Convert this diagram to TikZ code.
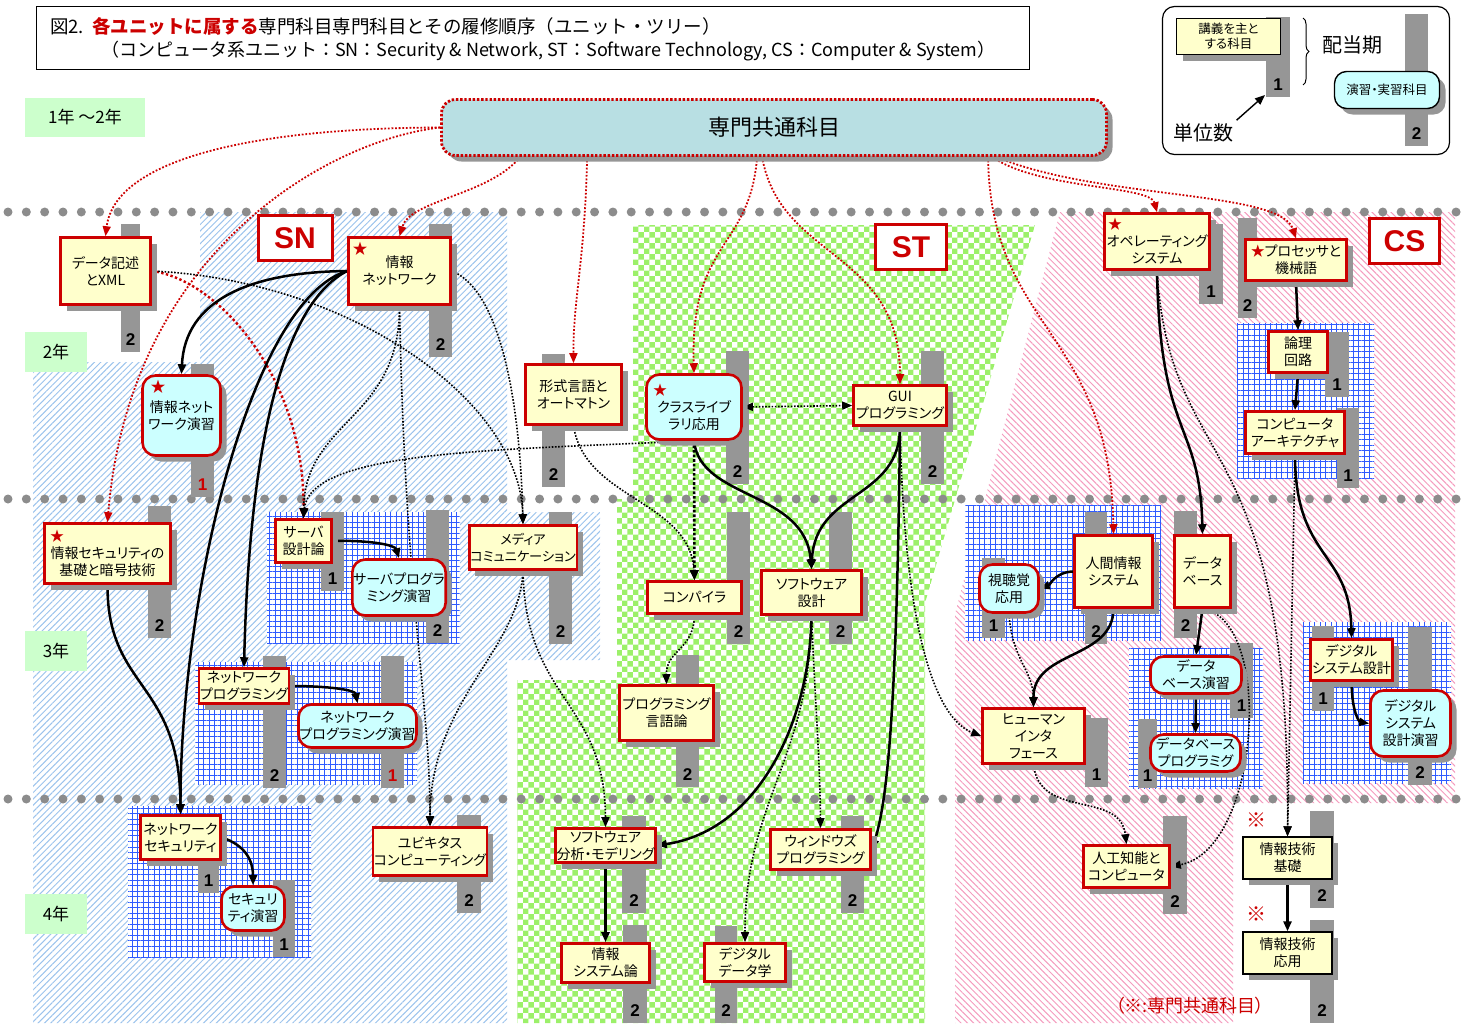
\documentclass[tikz,border=0pt]{standalone}
\usepackage{fontspec}
\newfontfamily\jp[CharacterWidth=AlternateProportional]{Noto Sans CJK JP}
\newfontfamily\jpfull{Noto Sans CJK JP}
\newfontfamily\numf{Liberation Sans}
\usetikzlibrary{arrows.meta,shadows,patterns,patterns.meta,decorations.pathreplacing}

\definecolor{boxred}{HTML}{CC0000}
\definecolor{lecfill}{HTML}{FFFFCC}
\definecolor{exfill}{HTML}{CCFFFF}
\definecolor{bargray}{HTML}{969696}
\definecolor{dotgray}{HTML}{8C8C8C}
\definecolor{yearfill}{HTML}{CCFFCC}
\definecolor{headfill}{HTML}{B8DFE3}
\definecolor{snblue}{HTML}{9CC3EC}
\definecolor{stgreen}{HTML}{9CF06A}
\definecolor{cspink}{HTML}{F49CBE}
\definecolor{gridblue}{HTML}{2F5BFF}

\pgfdeclarelayer{bg}
\pgfdeclarelayer{bars}
\pgfdeclarelayer{edges}
\pgfsetlayers{bg,bars,edges,main}

\tikzset{
  boxbase/.style={align=center, inner sep=1pt, font=\jp\fontsize{14}{17}\selectfont,
    drop shadow={shadow xshift=6pt, shadow yshift=-6pt, opacity=1, fill=bargray}},
  lec/.style={boxbase, draw=boxred, line width=2.6pt, fill=lecfill},
  exer/.style={boxbase, draw=boxred, line width=2.6pt, fill=exfill, rounded corners=13pt},
  comm/.style={boxbase, draw=black, line width=1.4pt, fill=lecfill},
  num/.style={inner sep=0pt, font=\numf\bfseries\fontsize{17}{17}\selectfont},
  unitlabel/.style={draw=boxred, line width=3pt, fill=white, text=boxred, inner sep=0pt,
    font=\numf\bfseries\fontsize{30}{30}\selectfont},
  yearlabel/.style={fill=yearfill, inner sep=0pt, font=\jp\fontsize{17}{17}\selectfont},
  starmark/.style={text=boxred, inner sep=0pt, font=\jp\fontsize{15}{15}\selectfont},
  must/.style={->, line width=2.5pt},
  rec/.style={->, line width=1.6pt, dash pattern=on 1.6pt off 1.6pt},
  fromcommon/.style={->, draw=boxred, line width=1.8pt, dash pattern=on 1.8pt off 1.8pt},
}

\begin{document}
\begin{tikzpicture}[x=1pt, y=-1pt, >={Triangle[length=10pt,width=8pt]}]
\useasboundingbox (0,0) rectangle (1464,1023);

\begin{pgfonlayer}{bg}
\fill[pattern={Lines[angle=45,distance=4.5pt,line width=1pt]}, pattern color=snblue]
  (200,212) -- (507,212) -- (507,512) -- (600,512) -- (600,660) -- (507,660) -- (507,1023)
  -- (33,1023) -- (33,362) -- (200,362) -- cycle;
\fill[pattern=checkerboard, pattern color=stgreen]
  (633,225) -- (1035,225) -- (925,603) -- (925,1023) -- (517,1023) -- (517,680) -- (617,680)
  -- (617,499) -- (633,499) -- cycle;
\fill[pattern={Lines[angle=-45,distance=4.5pt,line width=1pt]}, pattern color=cspink]
  (1060,212) -- (1455,212) -- (1455,803) -- (1233,803) -- (1233,1023) -- (955,1023) -- (955,614) -- cycle;
\foreach \xa/\ya/\xb/\yb in {1237/323/1374/478, 267/512/460/643, 195/662/417/784, 128/806/311/957,
  965/505/1161/640, 1129/648/1263/788, 1303/622/1451/783}
{
  \fill[white] (\xa,\ya) rectangle (\xb,\yb);
  \fill[pattern={Hatch[angle=0,distance=5.5pt,line width=1pt]}, pattern color=gridblue] (\xa,\ya) rectangle (\xb,\yb);
}
\foreach \y in {212,499,799}
  \draw[dotgray, line width=9pt, line cap=round, dash pattern=on 0pt off 18.33pt] (8,\y) -- (1460,\y);
\end{pgfonlayer}

\begin{pgfonlayer}{bars}
\foreach \xa/\ya/\xb/\yb/\crd/\col [count=\i] in {1266/17/1290/97/1/black, 1405/14/1428/146/2/black,
  121/224/140/352/2/black, 429/224/452/357/2/black, 191/364/214/497/1/boxred, 148/506/171/638/2/black,
  321/512/344/591/1/black, 426/510/449/643/2/black, 549/512/572/644/2/black, 263/656/286/788/2/black,
  381/656/404/788/1/boxred, 198/814/219/893/1/black, 273/880/295/957/1/black, 457/815/481/913/2/black,
  542/354/565/487/2/black, 726/351/749/484/2/black, 921/351/944/484/2/black, 727/512/750/644/2/black,
  829/512/852/644/2/black, 676/655/699/787/2/black, 622/816/646/913/2/black, 841/816/864/913/2/black,
  623/925/647/1023/2/black, 715/926/737/1023/2/black, 1199/224/1223/304/1/black, 1238/218/1257/318/2/black,
  1325/332/1349/397/1/black, 1337/408/1359/488/1/black, 1085/512/1107/644/2/black, 982/558/1005/638/1/black,
  1174/511/1197/638/2/black, 1085/718/1108/787/1/black, 1230/643/1253/718/1/black, 1138/719/1157/788/1/black,
  1312/626/1334/711/1/black, 1408/627/1432/785/2/black, 1163/816/1187/914/2/black, 1310/811/1334/908/2/black,
  1310/920/1334/1023/2/black}
{
  \fill[bargray] (\xa,\ya) rectangle (\xb,\yb);
  \node[num, text=\col] (credit\i) at ({(\xa+\xb)/2},{\yb-12}) {\crd};
}
\end{pgfonlayer}

% title and legend
\node[draw, line width=1.2pt, minimum width=993, minimum height=63, inner sep=0pt] (title) at (533,38) {};
\node[anchor=west, inner sep=0pt, font=\jpfull\fontsize{18.5}{18.5}\selectfont] (title1) at (50,26)
  {図2.\ \ \textcolor{boxred}{\bfseries 各ユニットに属する}専門科目専門科目とその履修順序（ユニット・ツリー）};
\node[anchor=west, inner sep=0pt, font=\jpfull\fontsize{18}{18}\selectfont] (title2) at (101,51)
  {（コンピュータ系ユニット：SN：Security \& Network, ST：Software Technology, CS：Computer \& System）};

\node[draw, line width=1.2pt, rounded corners=12pt, minimum width=287, minimum height=148] (legend) at (1306,80.5) {};
\node[comm, minimum width=104, minimum height=36, font=\jp\fontsize{12.5}{15}\selectfont] (leglec) at (1228.5,36.5) {講義を主と\\する科目};
\node[boxbase, draw=black, line width=1.4pt, fill=exfill, rounded corners=12pt, minimum width=105, minimum height=37,
  font=\jp\fontsize{12.5}{15}\selectfont] (legex) at (1387,90) {演習・実習科目};
\draw[decorate, decoration={brace, amplitude=6pt}, line width=1pt] (1303,18) -- (1303,85);
\node[font=\jp\fontsize{20}{20}\selectfont] (legterm) at (1352,45) {配当期};
\node[font=\jp\fontsize{20}{20}\selectfont] (legcredit) at (1203,133) {単位数};
\coordinate (legnum) at (1265,95);

% common courses and year labels
\node[boxbase, draw=boxred, line width=2.8pt, dash pattern=on 2.4pt off 1.8pt, rounded corners=14pt, fill=headfill,
  minimum width=665, minimum height=56, font=\jp\fontsize{22}{22}\selectfont,
  drop shadow={shadow xshift=4pt, shadow yshift=-4pt, opacity=1, fill=bargray}] (common) at (774,127.5) {専門共通科目};
\node[yearlabel, minimum width=120, minimum height=39] (y12) at (85,117.5) {1年 〜2年};
\node[yearlabel, minimum width=62, minimum height=40] (y2) at (56,352) {2年};
\node[yearlabel, minimum width=62, minimum height=40] (y3) at (56,650.5) {3年};
\node[yearlabel, minimum width=62, minimum height=40] (y4) at (56,913.5) {4年};

\node[unitlabel, minimum width=74, minimum height=45] (sn) at (295,238) {SN};
\node[unitlabel, minimum width=71, minimum height=45] (st) at (911,247) {ST};
\node[unitlabel, minimum width=70, minimum height=45] (cs) at (1404.5,241) {CS};

% SN
\node[lec, minimum width=90, minimum height=67] (xml) at (105.5,271) {データ記述\\とXML};
\node[lec, minimum width=102, minimum height=67] (net) at (399.5,271) {情報\\ネットワーク};
\node[starmark] (netstar) at (360,249) {★};
\node[exer, minimum width=78, minimum height=80] (netex) at (181.5,415.5) {情報ネット\\ワーク演習};
\node[starmark] (netexstar) at (158,387) {★};
\node[lec, minimum width=126, minimum height=60] (sec) at (107.5,553.5)
  {\makebox[115pt][l]{\textcolor{boxred}{★}}\\情報セキュリティの\\基礎と暗号技術};
\node[lec, minimum width=56, minimum height=43] (srv) at (303.5,541) {サーバ\\設計論};
\node[exer, minimum width=93, minimum height=56] (srvex) at (399,587.5) {サーバプログラ\\ミング演習};
\node[lec, minimum width=105, minimum height=44, font=\jp\fontsize{13.2}{17}\selectfont] (media) at (523,547.5) {メディア\\コミュニケーション};
\node[lec, minimum width=85, minimum height=35] (netprog) at (244,686) {ネットワーク\\プログラミング};
\node[exer, minimum width=114, minimum height=43] (netprogex) at (357.5,726) {ネットワーク\\プログラミング演習};
\node[lec, minimum width=80, minimum height=44] (netsec) at (180.5,837.5) {ネットワーク\\セキュリティ};
\node[exer, minimum width=63, minimum height=44] (secex) at (253,908.5) {セキュリ\\ティ演習};
\node[lec, minimum width=113, minimum height=48] (ubi) at (430,851.5) {ユビキタス\\コンピューティング};
\node[lec, minimum width=96, minimum height=60] (automata) at (573.5,394.5) {形式言語と\\オートマトン};

% ST
\node[exer, minimum width=95, minimum height=65] (lib) at (694,407)
  {\makebox[82pt][l]{\textcolor{boxred}{★}}\\クラスライブ\\ラリ応用};
\node[lec, minimum width=93, minimum height=40] (gui) at (900,405.5) {GUI\\プログラミング};
\node[lec, minimum width=94, minimum height=32] (comp) at (694.5,597.5) {コンパイラ};
\node[lec, minimum width=100, minimum height=44] (swd) at (811.5,592.5) {ソフトウェア\\設計};
\node[lec, minimum width=94, minimum height=55] (pl) at (666.5,713) {プログラミング\\言語論};
\node[lec, minimum width=100, minimum height=34] (swa) at (605.5,845.5) {ソフトウェア\\分析・モデリング};
\node[lec, minimum width=100, minimum height=40] (win) at (820.5,849.5) {ウィンドウズ\\プログラミング};
\node[lec, minimum width=88, minimum height=39] (iss) at (605.5,963) {情報\\システム論};
\node[lec, minimum width=81, minimum height=38] (dd) at (745,962.5) {デジタル\\データ学};

% CS
\node[lec, minimum width=105, minimum height=56] (os) at (1157,241.5)
  {\makebox[98pt][l]{\textcolor{boxred}{★}}\\オペレーティング\\システム};
\node[lec, minimum width=101, minimum height=41] (proc) at (1296,260) {\textcolor{boxred}{★}プロセッサと\\機械語};
\node[lec, minimum width=59, minimum height=41] (logic) at (1298,352) {論理\\回路};
\node[lec, minimum width=99, minimum height=42] (arch) at (1295,432.5) {コンピュータ\\アーキテクチャ};
\node[lec, minimum width=78, minimum height=72] (his) at (1113.5,571.5) {人間情報\\システム};
\node[exer, minimum width=59, minimum height=48] (av) at (1009,588.5) {視聴覚\\応用};
\node[lec, minimum width=56, minimum height=72] (db) at (1202.5,571.5) {データ\\ベース};
\node[lec, minimum width=102, minimum height=55] (hi) at (1033.5,736) {ヒューマン\\インタ\\フェース};
\node[exer, minimum width=91, minimum height=37] (dbex) at (1196,675) {データ\\ベース演習};
\node[exer, minimum width=90, minimum height=37] (dbprog) at (1195.5,753) {データベース\\プログラミグ};
\node[lec, minimum width=82, minimum height=41] (dsd) at (1351.5,660) {デジタル\\システム設計};
\node[exer, minimum width=80, minimum height=66] (dsdex) at (1410.5,723.5) {デジタル\\システム\\設計演習};
\node[lec, minimum width=86, minimum height=42] (ai) at (1126.5,866.5) {人工知能と\\コンピュータ};
\node[comm, minimum width=89, minimum height=42] (itb) at (1287.5,858) {情報技術\\基礎};
\node[comm, minimum width=89, minimum height=42] (ita) at (1287.5,953) {情報技術\\応用};
\node[text=boxred, font=\jp\fontsize{20}{20}\selectfont] (mark1) at (1256,820) {※};
\node[text=boxred, font=\jp\fontsize{20}{20}\selectfont] (mark2) at (1256,914) {※};
\node[text=boxred, font=\jp\fontsize{18}{18}\selectfont] (note) at (1190,1006) {（※:専門共通科目）};

\begin{pgfonlayer}{edges}
\draw[->, line width=1.4pt] (legcredit.north east) -- (legnum);

% from the common courses
\draw[fromcommon] (common.west) .. controls (250,128) and (115,160) .. (xml.north);
\draw[fromcommon] (common.west) .. controls (330,140) and (130,250) .. (sec.north);
\draw[fromcommon] ([xshift=80pt]common.south west) .. controls (490,195) and (410,200) .. (net.north);
\draw[fromcommon] ([xshift=147pt]common.south west) .. controls (585,260) and (573,300) .. (automata.north);
\draw[fromcommon] ([xshift=317pt]common.south west) .. controls (750,250) and (690,240) .. (lib.north);
\draw[fromcommon] ([xshift=322pt]common.south west) .. controls (780,260) and (900,250) .. (gui.north);
\draw[fromcommon] ([xshift=548pt]common.south west) .. controls (990,330) and (1110,330) .. (his.north);
\draw[fromcommon] ([xshift=552pt]common.south west) .. controls (1040,190) and (1150,185) .. (os.north);
\draw[fromcommon] ([xshift=556pt]common.south west) .. controls (1100,200) and (1280,190) .. (proc.north);
\draw[fromcommon, line width=2.4pt, dash pattern=on 2.4pt off 2.4pt] (xml.east) .. controls (220,280) and (305,380) .. (srv.north);

% recommended order
\draw[rec] (xml.east) .. controls (350,280) and (520,400) .. (media.north);
\draw[rec] (net.south) .. controls (400,420) and (305,420) .. (srv.north);
\draw[rec] (net.south) .. controls (405,600) and (430,700) .. (ubi.north);
\draw[rec] (lib.south) .. controls (500,450) and (310,450) .. (srv.north);
\draw[rec] (net.east) .. controls (500,290) and (520,400) .. (media.north);
\draw[rec] (automata.south) .. controls (585,500) and (690,500) .. (comp.north);
\draw[rec, line width=2.6pt, dash pattern=on 2.6pt off 2pt] (lib.south) -- (comp.north);
\draw[rec, <->] (lib.east) -- (gui.west);
\draw[rec] (comp.south) .. controls (694,650) and (666,650) .. (pl.north);
\draw[rec] (media.south) .. controls (525,700) and (605,700) .. (swa.north);
\draw[rec] (media.south) .. controls (520,650) and (430,700) .. (ubi.north);
\draw[rec] (swd.south) .. controls (815,700) and (820,760) .. (win.north);
\draw[rec] (swd.south) .. controls (810,760) and (745,800) .. (dd.north);
\draw[rec] (gui.south) .. controls (905,650) and (940,720) .. (hi.west);
\draw[rec] (av.south) .. controls (1012,660) and (1033,670) .. (hi.north);
\draw[rec] (hi.south) .. controls (1040,820) and (1120,790) .. (ai.north);
\draw[rec] (db.south) .. controls (1275,620) and (1260,850) .. (ai.east);
\draw[rec] (os.south) .. controls (1170,480) and (1290,420) .. (itb.north);
\draw[rec] (arch.south) -- (itb.north);

% required order
\draw[must] (net.west) .. controls (250,272) and (185,300) .. (netex.north);
\draw[must] (net.west) .. controls (250,300) and (180,600) .. (netsec.north);
\draw[must] (net.west) .. controls (290,300) and (250,420) .. (netprog.north);
\draw[must] (sec.south) .. controls (107,690) and (180,680) .. (netsec.north);
\draw[must] (srv.east) .. controls (370,540) and (395,545) .. (srvex.north);
\draw[must] (netprog.east) .. controls (330,686) and (355,690) .. (netprogex.north);
\draw[must] (netsec.east) .. controls (245,845) and (253,860) .. (secex.north);
\draw[must] (lib.south) .. controls (700,500) and (805,490) .. (swd.north);
\draw[must] (gui.south) .. controls (900,500) and (815,490) .. (swd.north);
\draw[must] (gui.south) .. controls (897,700) and (888,800) .. (win.east);
\draw[must] (swd.south) .. controls (810,720) and (760,830) .. (swa.east);
\draw[must] (swa.south) -- (iss.north);
\draw[must] (proc.south) -- (logic.north);
\draw[must] (logic.south) -- (arch.north);
\draw[must] (arch.south) .. controls (1295,560) and (1350,550) .. (dsd.north);
\draw[must] (dsd.south) .. controls (1352,715) and (1360,722) .. (dsdex.west);
\draw[must] (os.south) .. controls (1160,440) and (1200,420) .. (db.north);
\draw[must] (db.south) -- (dbex.north);
\draw[must] (dbex.south) -- (dbprog.north);
\draw[must] (his.west) .. controls (1055,572) and (1050,585) .. (av.east);
\draw[must] (his.south) .. controls (1113,660) and (1033,650) .. (hi.north);
\draw[must] (itb.south) -- (ita.north);
\end{pgfonlayer}

\end{tikzpicture}
\end{document}
